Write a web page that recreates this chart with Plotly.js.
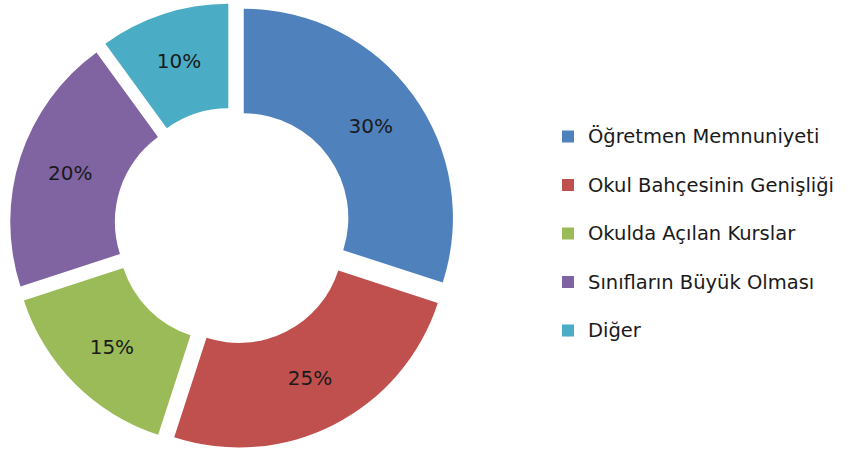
<!DOCTYPE html>
<html>
<head>
<meta charset="utf-8">
<script src="https://cdn.plot.ly/plotly-3.0.1.min.js"></script>
<style>html,body{margin:0;padding:0;background:#fff;} #chart{width:863px;height:449px;}</style>
</head>
<body>
<div id="chart"></div>
<script>
const categories = ["Öğretmen Memnuniyeti", "Okul Bahçesinin Genişliği", "Okulda Açılan Kurslar", "Sınıfların Büyük Olması", "Diğer"];
const values = [30, 25, 15, 20, 10];
const colors = ["#4F81BD", "#C0504D", "#9BBB59", "#8064A2", "#4BACC6"];

const data = [{
  type: "pie",
  labels: categories.map(c => '<span style="font-size:19.5px">' + c + '</span><br> '),
  values: values,
  sort: false,
  direction: "clockwise",
  rotation: 0,
  hole: 0.5,
  pull: 0.066,
  marker: {colors: colors, line: {width: 0}},
  textinfo: "percent",
  texttemplate: "%{percent:.0%}",
  textposition: "inside",
  insidetextorientation: "horizontal",
  textfont: {family: "DejaVu Sans", size: 20, color: "#1a1a1a"},
  domain: {x: [0, 0.539], y: [0, 1]},
  hoverinfo: "label+percent"
}];

const layout = {
  width: 863, height: 449,
  margin: {l: 0, r: 0, t: 3, b: 0},
  paper_bgcolor: "#ffffff",
  showlegend: true,
  legend: {
    x: 0.635, xanchor: "left",
    y: 0.741, yanchor: "top",
    valign: "top",
    font: {family: "DejaVu Sans", size: 17.5, color: "#1a1a1a"},
    bgcolor: "rgba(0,0,0,0)"
  }
};

Plotly.newPlot("chart", data, layout, {displayModeBar: false, staticPlot: true});
</script>
</body>
</html>
